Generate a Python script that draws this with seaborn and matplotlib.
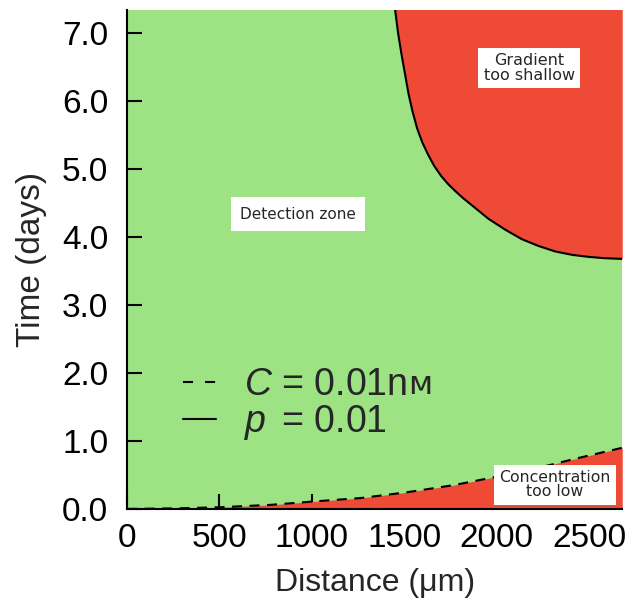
import matplotlib
matplotlib.use("Agg")
import matplotlib.pyplot as plt
from matplotlib.lines import Line2D
import seaborn as sns
import pandas as pd

# boundaries (distance in um, time in days)
grad_x = [1451, 1467, 1486, 1524, 1545, 1570, 1597, 1630, 1662, 1700, 1738, 1776, 1816,
          1857, 1956, 2047, 2137, 2227, 2317, 2408, 2498, 2588, 2680]
grad_y = [7.34, 7.00, 6.68, 6.10, 5.85, 5.60, 5.40, 5.21, 5.05, 4.90, 4.78, 4.68, 4.58,
          4.49, 4.27, 4.11, 3.97, 3.87, 3.79, 3.74, 3.71, 3.69, 3.68]

conc_x = [0, 250, 505, 776, 1011, 1263, 1514, 1767, 2002, 2218, 2435, 2680]
conc_y = [0, 0.008, 0.025, 0.06, 0.11, 0.16, 0.245, 0.35, 0.475, 0.60, 0.745, 0.90]

x_ticks = [0, 500, 1000, 1500, 2000, 2500]
y_ticks = [0.0, 1.0, 2.0, 3.0, 4.0, 5.0, 6.0, 7.0]

GREEN = "#9de283"
RED = "#ef4a36"
XMAX, YMAX = 2680, 7.34

sns.set_style("ticks")
plt.rcParams["font.family"] = ["Liberation Sans", "DejaVu Sans"]
plt.rcParams["mathtext.fontset"] = "custom"
plt.rcParams["mathtext.rm"] = "Liberation Sans"
plt.rcParams["mathtext.it"] = "Liberation Sans:italic"

grad = pd.DataFrame({"x": grad_x, "y": grad_y})
conc = pd.DataFrame({"x": conc_x, "y": conc_y})

fig, ax = plt.subplots(figsize=(6.26, 6.03), dpi=100)
fig.subplots_adjust(left=0.203, right=0.994, bottom=0.156, top=0.983)

ax.set_facecolor(GREEN)
ax.fill_between(grad["x"], grad["y"], YMAX + 0.2, color=RED, lw=0)
ax.fill_between(conc["x"], 0, conc["y"], color=RED, lw=0)
sns.lineplot(data=grad, x="x", y="y", ax=ax, color="black", lw=1.5, sort=False)
sns.lineplot(data=conc, x="x", y="y", ax=ax, color="black", lw=1.5,
             dashes=False, linestyle=(0, (4.8, 3.6)))

box = dict(boxstyle="square,pad=0.6", fc="white", ec="none")
box2 = dict(boxstyle="square,pad=0.33", fc="white", ec="none")
ax.text(926, 4.34, "Detection zone", ha="center", va="center",
        fontsize=11, family="DejaVu Sans", bbox=box)
ax.text(2176, 6.49, "Gradient\ntoo shallow", ha="center", va="center",
        fontsize=11.5, family="DejaVu Sans", linespacing=0.92, bbox=box2)
ax.text(2316, 0.353, "Concentration\ntoo low", ha="center", va="center",
        fontsize=11.3, family="DejaVu Sans", linespacing=0.92, bbox=box2)

handles = [Line2D([], [], color="black", lw=1.5, linestyle=(0, (4.8, 5.8))),
           Line2D([], [], color="black", lw=1.5)]
leg = ax.legend(handles, [r"$C$ = 0.01n", r"$p\,$ = 0.01"], loc="center left",
                bbox_to_anchor=(0.112, 0.209), frameon=False, fontsize=27,
                handlelength=0.88, handletextpad=0.75, labelspacing=0.0,
                borderpad=0, borderaxespad=0)
ax.annotate("ᴍ", xy=(1, 0), xycoords=leg.get_texts()[0], xytext=(1, 1.5),
            textcoords="offset points", ha="left", va="bottom", fontsize=23,
            family="DejaVu Sans", zorder=10, annotation_clip=False)

ax.set_xlim(0, XMAX)
ax.set_ylim(0, YMAX)
ax.set_xticks(x_ticks)
ax.set_yticks(y_ticks)
ax.set_yticklabels([f"{v:.1f}" for v in y_ticks])
ax.tick_params(direction="in", length=11, width=1.5, labelsize=24, colors="black")
ax.tick_params(axis="y", pad=13.5)
ax.tick_params(axis="x", pad=10)
ax.set_xlabel("Distance (μm)", fontsize=23, labelpad=10)
ax.set_ylabel("Time (days)", fontsize=24, labelpad=11)
for s in ["top", "right"]:
    ax.spines[s].set_visible(False)
for s in ["left", "bottom"]:
    ax.spines[s].set_linewidth(1.5)
    ax.spines[s].set_color("black")
    ax.spines[s].set_zorder(5)

fig.savefig("out.png", dpi=100)
